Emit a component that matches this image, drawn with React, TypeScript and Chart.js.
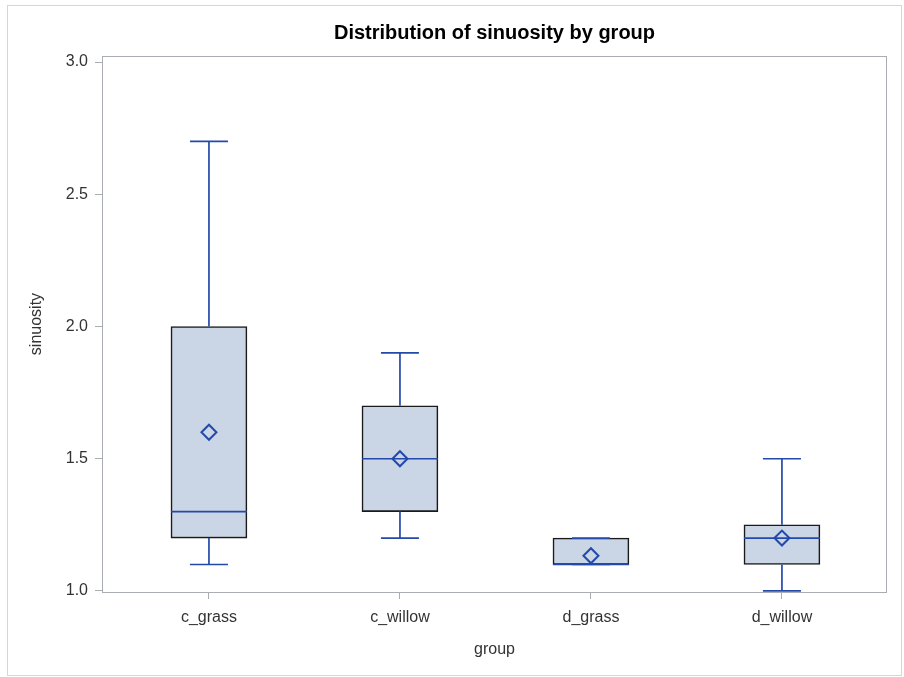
import React, { useEffect, useRef } from "react";
import { Chart, registerables } from "chart.js";

Chart.register(...registerables);

const groups = ["c_grass", "c_willow", "d_grass", "d_willow"];
const minVals = [1.1, 1.2, 1.1, 1.0];
const q1Vals = [1.2, 1.3, 1.1, 1.1];
const medianVals = [1.3, 1.5, 1.1, 1.2];
const q3Vals = [2.0, 1.7, 1.2, 1.25];
const maxVals = [2.7, 1.9, 1.2, 1.5];
const meanVals = [1.6, 1.5, 1.133, 1.2];
const yTickVals = [1.0, 1.5, 2.0, 2.5, 3.0];

const FONT = "'Liberation Sans', Arial, Helvetica, sans-serif";
const BLUE = "#2349ab";
const FILL = "#cad5e5";
const FRAME = "#a9adb2";
const TEXT = "#333333";

const framePlugin = {
  id: "framePlugin",
  beforeDraw(chart: any) {
    const ctx = chart.ctx;
    ctx.save();
    ctx.fillStyle = "#ffffff";
    ctx.fillRect(0, 0, chart.width, chart.height);
    ctx.strokeStyle = "#d6d6d6";
    ctx.lineWidth = 1;
    ctx.strokeRect(7.5, 5.5, chart.width - 10, chart.height - 7);
    ctx.restore();
  },
  beforeDatasetsDraw(chart: any) {
    const { ctx, chartArea: a } = chart;
    ctx.save();
    ctx.strokeStyle = FRAME;
    ctx.lineWidth = 1;
    ctx.strokeRect(Math.round(a.left) + 0.5, Math.round(a.top) + 0.5, Math.round(a.right - a.left) - 1, Math.round(a.bottom - a.top));
    ctx.restore();
  },
};

const whiskerPlugin = {
  id: "whiskerPlugin",
  afterDatasetsDraw(chart: any) {
    const ctx = chart.ctx;
    const xs = chart.scales.x;
    const ys = chart.scales.y;
    const meta = chart.getDatasetMeta(0);
    ctx.save();
    ctx.strokeStyle = BLUE;
    ctx.lineWidth = 1.7;
    const seg = (x1: number, y1: number, x2: number, y2: number) => {
      ctx.beginPath();
      ctx.moveTo(x1, y1);
      ctx.lineTo(x2, y2);
      ctx.stroke();
    };
    groups.forEach((_g, i) => {
      const cx = xs.getPixelForValue(i);
      const bar = meta.data[i];
      const half = bar ? bar.width / 2 : 38;
      const cap = half / 2;
      const yMin = ys.getPixelForValue(minVals[i]);
      const yQ1 = ys.getPixelForValue(q1Vals[i]);
      const yMed = ys.getPixelForValue(medianVals[i]);
      const yQ3 = ys.getPixelForValue(q3Vals[i]);
      const yMax = ys.getPixelForValue(maxVals[i]);
      if (yQ3 - yMax > 0.5) seg(cx, yQ3, cx, yMax);
      seg(cx - cap, yMax, cx + cap, yMax);
      if (yMin - yQ1 > 0.5) seg(cx, yQ1, cx, yMin);
      seg(cx - cap, yMin, cx + cap, yMin);
      seg(cx - half, yMed, cx + half, yMed);
    });
    ctx.restore();
  },
};

export default function App() {
  const ref = useRef<HTMLCanvasElement | null>(null);
  useEffect(() => {
    if (!ref.current) return;
    const chart = new Chart(ref.current, {
      type: "bar",
      data: {
        datasets: [
          {
            type: "bar",
            data: groups.map((_g, i) => ({ x: i, y: [q1Vals[i], q3Vals[i]] })) as any,
            backgroundColor: FILL,
            borderColor: "#1a1a1a",
            borderWidth: 1.6,
            borderSkipped: false,
            barThickness: 76,
            order: 2,
          } as any,
          {
            type: "scatter",
            data: groups.map((_g, i) => ({ x: i, y: meanVals[i] })),
            pointStyle: "rectRot",
            radius: 7.5,
            borderWidth: 2,
            borderColor: BLUE,
            backgroundColor: "rgba(0,0,0,0)",
            order: 1,
          } as any,
        ],
      },
      options: {
        responsive: false,
        animation: false,
        events: [],
        layout: { padding: { left: 0, right: 17, top: 0, bottom: 0 } },
        plugins: {
          legend: { display: false },
          tooltip: { enabled: false },
          title: {
            display: true,
            text: "Distribution of sinuosity by group",
            fullSize: false,
            color: "#000000",
            font: { family: FONT, size: 20, weight: "bold" },
            padding: { top: 21, bottom: 11 },
          },
        },
        scales: {
          x: {
            type: "linear",
            min: -0.56,
            max: 3.55,
            offset: false,
            grid: { display: true, drawOnChartArea: false, offset: false, color: FRAME, tickLength: 7 },
            border: { display: false },
            afterBuildTicks: (s: any) => {
              s.ticks = groups.map((_g, i) => ({ value: i }));
            },
            afterFit: (s: any) => {
              s.height = 85;
            },
            ticks: {
              callback: (v: any) => groups[v as number] ?? "",
              color: TEXT,
              font: { family: FONT, size: 16 },
              padding: 9,
              maxRotation: 0,
            },
            title: {
              display: true,
              text: "group",
              color: TEXT,
              font: { family: FONT, size: 16 },
              padding: { top: 0, bottom: 18 },
            },
          },
          y: {
            type: "linear",
            min: 0.996,
            max: 3.023,
            grid: { display: true, drawOnChartArea: false, color: FRAME, tickLength: 7 },
            border: { display: false },
            afterBuildTicks: (s: any) => {
              s.ticks = yTickVals.map((v) => ({ value: v }));
            },
            afterFit: (s: any) => {
              s.width = 102;
            },
            ticks: {
              callback: (v: any) => Number(v).toFixed(1),
              color: TEXT,
              font: { family: FONT, size: 16 },
              padding: 7,
            },
            title: {
              display: true,
              text: "sinuosity",
              color: TEXT,
              font: { family: FONT, size: 16 },
              padding: { top: 27, bottom: 0 },
            },
          },
        },
      } as any,
      plugins: [framePlugin, whiskerPlugin],
    });
    return () => chart.destroy();
  }, []);
  return (
    <div style={{ position: "absolute", left: 0, top: 0, width: 904, height: 677, background: "#fff" }}>
      <canvas ref={ref} width={904} height={677} style={{ display: "block" }} />
    </div>
  );
}
